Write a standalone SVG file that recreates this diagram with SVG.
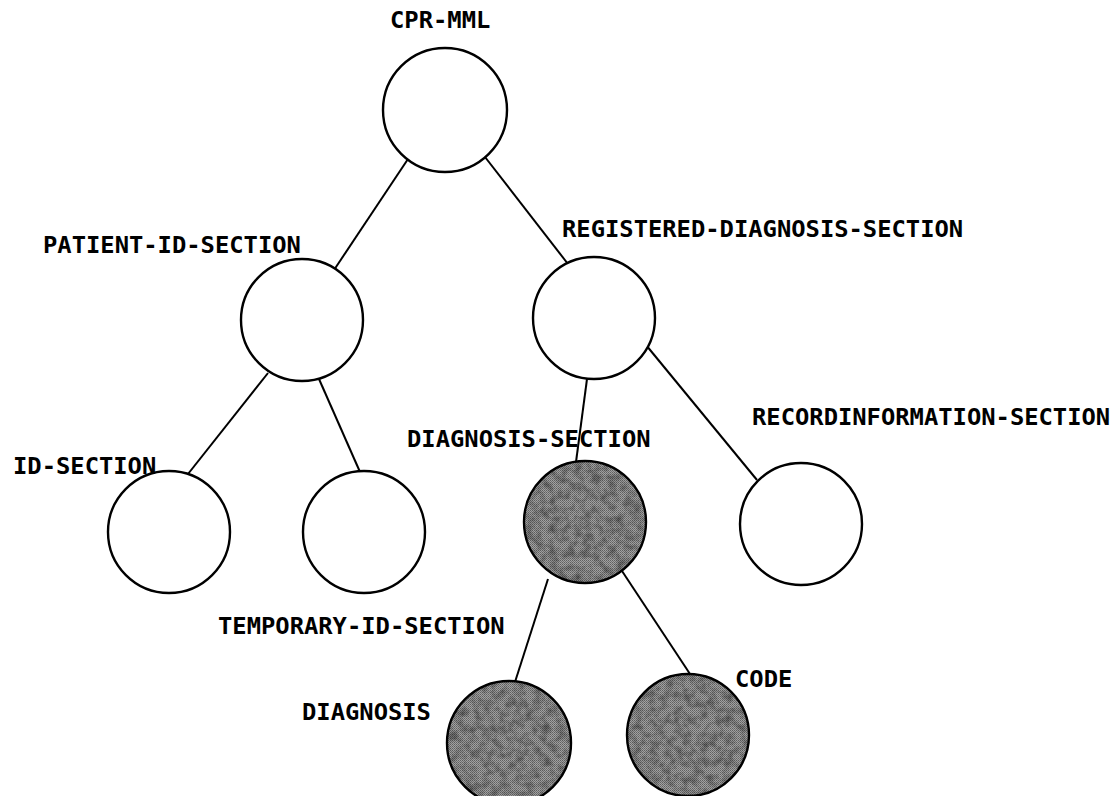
<svg xmlns="http://www.w3.org/2000/svg" width="1118" height="796" viewBox="0 0 1118 796">
  <defs>
    <!-- fine dither for shaded elements -->
    <pattern id="dither" width="2" height="2" patternUnits="userSpaceOnUse">
      <rect width="2" height="2" fill="#a2a2a2"/>
      <rect width="1" height="1" fill="#606060"/>
      <rect x="1" y="1" width="1" height="1" fill="#727272"/>
    </pattern>
    <!-- mottled tone over the dither -->
    <filter id="mottle" x="0" y="0" width="100%" height="100%">
      <feTurbulence type="fractalNoise" baseFrequency="0.12" numOctaves="3" seed="7"/>
      <feColorMatrix type="matrix" values="0 0 0 0 0  0 0 0 0 0  0 0 0 0 0  0.8 0 0 0 -0.3"/>
      <feComposite in2="SourceAlpha" operator="in"/>
    </filter>
    <style>
      .node { fill: #ffffff; stroke: #000000; stroke-width: 2.4; }
      .shade { fill: url(#dither); }
      .grain { fill: #000000; filter: url(#mottle); }
      .ring { fill: none; stroke: #000000; stroke-width: 2.4; }
      .edge { stroke: #000000; stroke-width: 2; fill: none; }
      .label { font-family: "DejaVu Sans Mono", "Liberation Mono", monospace; font-weight: bold; font-size: 23.8px; fill: #000000; }
    </style>
  </defs>

  <rect width="1118" height="796" fill="#ffffff"/>

  <!-- connectors -->
  <g id="connectors">
    <line class="edge" x1="408" y1="159" x2="334" y2="270"/>
    <line class="edge" x1="485" y1="157" x2="568" y2="264"/>
    <line class="edge" x1="268" y1="373" x2="188" y2="474"/>
    <line class="edge" x1="319" y1="379" x2="360" y2="472"/>
    <line class="edge" x1="587" y1="379" x2="576" y2="462"/>
    <line class="edge" x1="646" y1="345" x2="757" y2="480"/>
    <line class="edge" x1="548" y1="579" x2="515" y2="682"/>
    <line class="edge" x1="622" y1="571" x2="690" y2="674"/>
  </g>

  <g id="cpr-mml">
    <circle class="node" cx="445" cy="110" r="62"/>
    <text class="label" x="390" y="28">CPR-MML</text>
  </g>

  <g id="patient-id-section">
    <circle class="node" cx="302" cy="320" r="61"/>
    <text class="label" x="43" y="253">PATIENT-ID-SECTION</text>
  </g>

  <g id="registered-diagnosis-section">
    <circle class="node" cx="594" cy="318" r="61"/>
    <text class="label" x="562" y="237">REGISTERED-DIAGNOSIS-SECTION</text>
  </g>

  <g id="id-section">
    <circle class="node" cx="169" cy="532" r="61"/>
    <text class="label" x="13" y="474">ID-SECTION</text>
  </g>

  <g id="temporary-id-section">
    <circle class="node" cx="364" cy="532" r="61"/>
    <text class="label" x="218" y="634">TEMPORARY-ID-SECTION</text>
  </g>

  <g id="diagnosis-section">
    <circle class="shade" cx="585" cy="522" r="61"/>
    <circle class="grain" cx="585" cy="522" r="61"/>
    <circle class="ring" cx="585" cy="522" r="61"/>
    <text class="label" x="407" y="447">DIAGNOSIS-SECTION</text>
  </g>

  <g id="recordinformation-section">
    <circle class="node" cx="801" cy="524" r="61"/>
    <text class="label" x="752" y="425">RECORDINFORMATION-SECTION</text>
  </g>

  <g id="diagnosis">
    <circle class="shade" cx="509" cy="743" r="62"/>
    <circle class="grain" cx="509" cy="743" r="62"/>
    <circle class="ring" cx="509" cy="743" r="62"/>
    <text class="label" x="302" y="720">DIAGNOSIS</text>
  </g>

  <g id="code">
    <circle class="shade" cx="688" cy="735" r="61"/>
    <circle class="grain" cx="688" cy="735" r="61"/>
    <circle class="ring" cx="688" cy="735" r="61"/>
    <text class="label" x="735" y="687">CODE</text>
  </g>
</svg>
